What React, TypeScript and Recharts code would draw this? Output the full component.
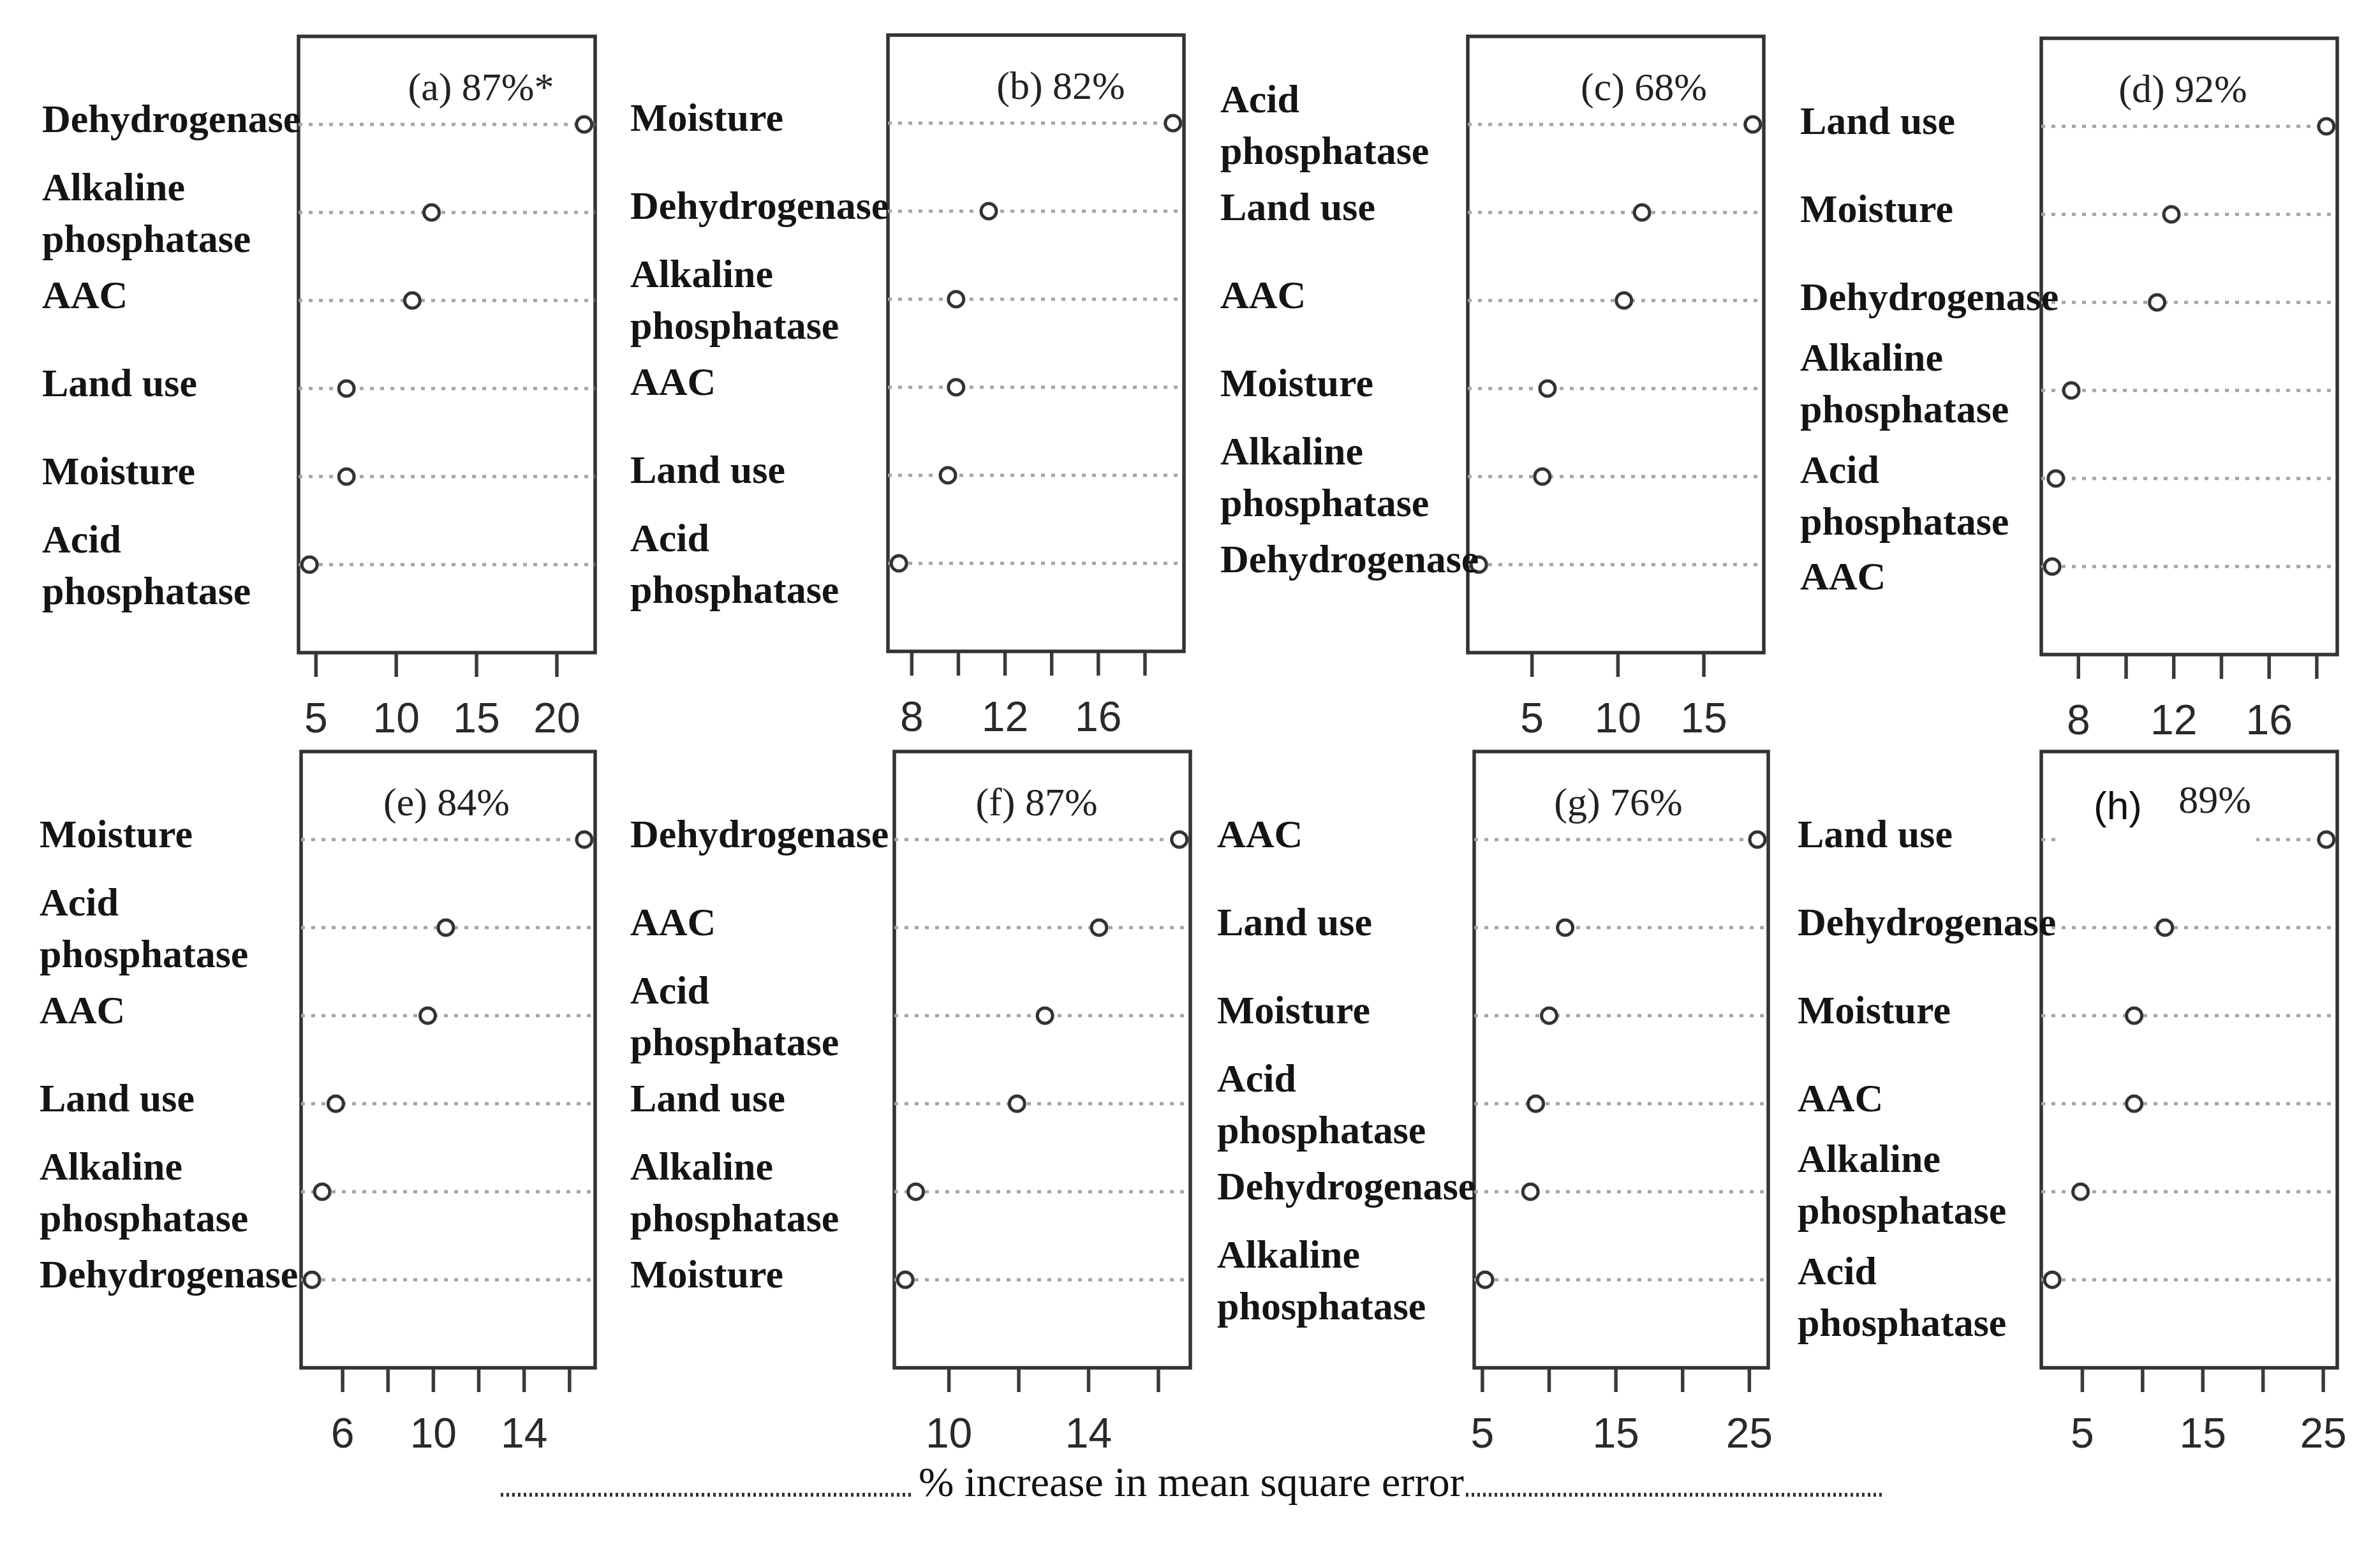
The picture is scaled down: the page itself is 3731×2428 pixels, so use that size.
import React from "react";
import { ScatterChart, Scatter, XAxis, YAxis, ReferenceLine, ReferenceArea } from "recharts";

// ---------- data (% increase in MSE per predictor, per panel, top row first) ----------
const aVariables = ["Dehydrogenase", "Alkaline phosphatase", "AAC", "Land use", "Moisture", "Acid phosphatase"];
const aImportance = [21.7, 12.2, 11.0, 6.9, 6.9, 4.6];
const aTicks = [5, 10, 15, 20];
const aTickLabels = [5, 10, 15, 20];

const bVariables = ["Moisture", "Dehydrogenase", "Alkaline phosphatase", "AAC", "Land use", "Acid phosphatase"];
const bImportance = [19.2, 11.3, 9.9, 9.9, 9.55, 7.45];
const bTicks = [8, 10, 12, 14, 16, 18];
const bTickLabels = [8, 12, 16];

const cVariables = ["Acid phosphatase", "Land use", "AAC", "Moisture", "Alkaline phosphatase", "Dehydrogenase"];
const cImportance = [17.85, 11.4, 10.35, 5.9, 5.6, 1.9];
const cTicks = [5, 10, 15];
const cTickLabels = [5, 10, 15];

const dVariables = ["Land use", "Moisture", "Dehydrogenase", "Alkaline phosphatase", "Acid phosphatase", "AAC"];
const dImportance = [18.4, 11.9, 11.3, 7.7, 7.05, 6.9];
const dTicks = [8, 10, 12, 14, 16, 18];
const dTickLabels = [8, 12, 16];

const eVariables = ["Moisture", "Acid phosphatase", "AAC", "Land use", "Alkaline phosphatase", "Dehydrogenase"];
const eImportance = [16.65, 10.55, 9.75, 5.7, 5.1, 4.65];
const eTicks = [6, 8, 10, 12, 14, 16];
const eTickLabels = [6, 10, 14];

const fVariables = ["Dehydrogenase", "AAC", "Acid phosphatase", "Land use", "Alkaline phosphatase", "Moisture"];
const fImportance = [16.6, 14.3, 12.75, 11.95, 9.05, 8.75];
const fTicks = [10, 12, 14, 16];
const fTickLabels = [10, 14];

const gVariables = ["AAC", "Land use", "Moisture", "Acid phosphatase", "Dehydrogenase", "Alkaline phosphatase"];
const gImportance = [25.6, 11.2, 10.0, 9.0, 8.6, 5.2];
const gTicks = [5, 10, 15, 20, 25];
const gTickLabels = [5, 15, 25];

const hVariables = ["Land use", "Dehydrogenase", "Moisture", "AAC", "Alkaline phosphatase", "Acid phosphatase"];
const hImportance = [25.25, 11.85, 9.3, 9.3, 4.85, 2.5];
const hTicks = [5, 10, 15, 20, 25];
const hTickLabels = [5, 15, 25];

const panelTitles = ["(a) 87%*", "(b) 82%", "(c) 68%", "(d) 92%", "(e) 84%", "(f) 87%", "(g) 76%", "(h)|89%"];
const xAxisTitle = "%  increase in mean square error";

const PANELS = [
  { vars: aVariables, vals: aImportance, ticks: aTicks, tickLabels: aTickLabels, title: panelTitles[0] },
  { vars: bVariables, vals: bImportance, ticks: bTicks, tickLabels: bTickLabels, title: panelTitles[1] },
  { vars: cVariables, vals: cImportance, ticks: cTicks, tickLabels: cTickLabels, title: panelTitles[2] },
  { vars: dVariables, vals: dImportance, ticks: dTicks, tickLabels: dTickLabels, title: panelTitles[3] },
  { vars: eVariables, vals: eImportance, ticks: eTicks, tickLabels: eTickLabels, title: panelTitles[4] },
  { vars: fVariables, vals: fImportance, ticks: fTicks, tickLabels: fTickLabels, title: panelTitles[5] },
  { vars: gVariables, vals: gImportance, ticks: gTicks, tickLabels: gTickLabels, title: panelTitles[6] },
  { vars: hVariables, vals: hImportance, ticks: hTicks, tickLabels: hTickLabels, title: panelTitles[7] },
];

// ---------- layout (pixels) ----------
const BOX_H = 966;
const MT = 12;
const MR = 20;
const XAXIS_H = 150;
const LAYOUT = [
  { boxLeft: 468, boxRight: 933, boxTop: 57, labelX: 66, titleX: 754 },
  { boxLeft: 1392, boxRight: 1856, boxTop: 55, labelX: 988, titleX: 1663 },
  { boxLeft: 2301, boxRight: 2765, boxTop: 57, labelX: 1913, titleX: 2577 },
  { boxLeft: 3200, boxRight: 3664, boxTop: 60, labelX: 2822, titleX: 3422 },
  { boxLeft: 472, boxRight: 933, boxTop: 1178, labelX: 62, titleX: 700 },
  { boxLeft: 1402, boxRight: 1866, boxTop: 1178, labelX: 988, titleX: 1625 },
  { boxLeft: 2311, boxRight: 2772, boxTop: 1178, labelX: 1908, titleX: 2537 },
  { boxLeft: 3200, boxRight: 3664, boxTop: 1178, labelX: 2818, titleX: 3320 },
];

const SERIF = "'Liberation Serif', 'Times New Roman', serif";
const SANS = "'Liberation Sans', Arial, sans-serif";
const LABEL_SIZE = 62;
const LINE_GAP = 81;

function splitLabel(name: string): string[] {
  return name.indexOf("phosphatase") >= 0 ? name.split(" ") : [name];
}
function isTwoLine(name: string | undefined): boolean {
  return !!name && splitLabel(name).length > 1;
}

function OpenCircle(props: any) {
  const { cx, cy } = props;
  if (cx == null || cy == null) return null;
  return <circle cx={cx} cy={cy} r={12} fill="#ffffff" stroke="#333333" strokeWidth={5} />;
}

function DotPanel({ panel, layout }: { panel: any; layout: any }) {
  const n = panel.vars.length;
  const rows: number[] = panel.vars.map((_: string, i: number) => n - i);
  const data = panel.vars.map((v: string, i: number) => ({ name: v, imp: panel.vals[i], row: n - i }));
  const lo = Math.min(...panel.vals);
  const hi = Math.max(...panel.vals);
  const pad = (hi - lo) * 0.04;
  const domain: [number, number] = [lo - pad, hi + pad];
  const chartLeft = layout.labelX - 10;
  const top = layout.boxTop - MT;
  const width = layout.boxRight + MR - chartLeft;
  const yAxisWidth = layout.boxLeft - chartLeft;

  const xTick = (p: any) => {
    const { x, y, payload } = p;
    const show = panel.tickLabels.indexOf(payload.value) >= 0;
    return (
      <g>
        <line x1={x} x2={x} y1={y + 2} y2={y + 38} stroke="#3a3a3a" strokeWidth={5.5} />
        {show && (
          <text x={x} y={y + 125} textAnchor="middle" fontFamily={SANS} fontSize={66} fill="#2a2a2a">
            {payload.value}
          </text>
        )}
      </g>
    );
  };

  const yTick = (p: any) => {
    const { x, y, payload } = p;
    const idx = n - payload.value;
    const name = panel.vars[idx];
    if (!name) return <g />;
    const lines = splitLabel(name);
    const lx = x - yAxisWidth + 10;
    let shift = 0;
    const below = panel.vars[idx + 1];
    const above = panel.vars[idx - 1];
    const above2 = panel.vars[idx - 2];
    if (lines.length > 1) {
      if (isTwoLine(below)) shift -= 12;
      if (isTwoLine(above)) shift += 26;
    } else if (isTwoLine(above) && isTwoLine(above2)) {
      shift += 24;
    }
    return (
      <g>
        {lines.map((ln: string, i: number) => {
          const off = lines.length === 1 ? -9 : (i === 0 ? -LINE_GAP / 2 : LINE_GAP / 2);
          return (
            <text key={i} x={lx} y={y + off + shift + 21} textAnchor="start" fontFamily={SERIF} fontWeight="bold" fontSize={LABEL_SIZE} fill="#141414">
              {ln}
            </text>
          );
        })}
      </g>
    );
  };

  return (
    <div style={{ position: "absolute", left: chartLeft, top }}>
      <ScatterChart width={width} height={MT + BOX_H + XAXIS_H} margin={{ top: MT, right: MR, bottom: 0, left: 0 }}>
        <XAxis
          type="number"
          dataKey="imp"
          domain={domain}
          ticks={panel.ticks}
          interval={0}
          tickLine={false}
          axisLine={false}
          tickSize={0}
          tickMargin={0}
          height={XAXIS_H}
          tick={xTick}
        />
        <YAxis
          type="number"
          dataKey="row"
          domain={[0, n + 1]}
          ticks={rows}
          interval={0}
          tickLine={false}
          axisLine={false}
          tickSize={0}
          tickMargin={0}
          width={yAxisWidth}
          tick={yTick}
        />
        {rows.map((r) => (
          <ReferenceLine key={r} y={r} stroke="#a4a4a4" strokeWidth={5} strokeDasharray="6 10" />
        ))}
        <ReferenceArea x1={domain[0]} x2={domain[1]} y1={0} y2={n + 1} fill="none" fillOpacity={0} stroke="#333333" strokeWidth={5.5} ifOverflow="visible" />
        <Scatter data={data} isAnimationActive={false} shape={OpenCircle} />
      </ScatterChart>
    </div>
  );
}

export default function App() {
  return (
    <div style={{ position: "absolute", left: 0, top: 0, width: 3731, height: 2428, background: "#ffffff", overflow: "hidden" }}>
      {PANELS.map((p, i) => (
        <DotPanel key={i} panel={p} layout={LAYOUT[i]} />
      ))}
      <svg width={3731} height={2428} style={{ position: "absolute", left: 0, top: 0, pointerEvents: "none" }}>
        {PANELS.map((p, i) => {
          const L = LAYOUT[i];
          const baseY = L.boxTop + 100;
          if (p.title.indexOf("|") >= 0) {
            const [t1, t2] = p.title.split("|");
            return (
              <g key={i}>
                <rect x={L.boxLeft + 22} y={L.boxTop + 40} width={315} height={110} fill="#ffffff" />
                <text x={L.titleX} y={baseY + 6} textAnchor="middle" fontFamily={SANS} fontSize={62} fill="#111">{t1}</text>
                <text x={L.titleX + 152} y={baseY - 4} textAnchor="middle" fontFamily={SERIF} fontSize={62} fill="#222">{t2}</text>
              </g>
            );
          }
          return (
            <text key={i} x={L.titleX} y={baseY} textAnchor="middle" fontFamily={SERIF} fontSize={62} fill="#222">
              {p.title}
            </text>
          );
        })}
        <line x1={785} x2={1432} y1={2343} y2={2343} stroke="#333" strokeWidth={6} strokeDasharray="4 5" />
        <text x={1440} y={2345} fontFamily={SERIF} fontSize={66} fill="#111" textLength={855} lengthAdjust="spacingAndGlyphs">
          {xAxisTitle}
        </text>
        <line x1={2298} x2={2952} y1={2343} y2={2343} stroke="#333" strokeWidth={6} strokeDasharray="4 5" />
      </svg>
    </div>
  );
}
